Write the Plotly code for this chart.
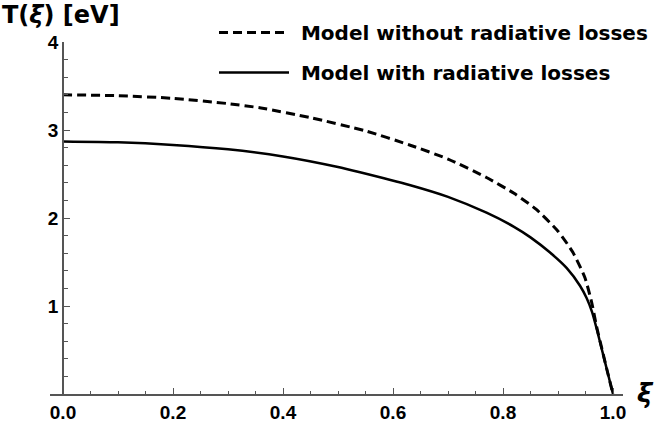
import plotly.graph_objects as go

# Data
xi_no_rad = [0.0, 0.1, 0.2, 0.3, 0.36, 0.45, 0.55, 0.63, 0.70, 0.77, 0.82, 0.86, 0.90, 0.927, 0.949, 0.962, 0.97, 0.98, 0.99, 1.0]
T_no_rad = [3.40, 3.39, 3.36, 3.30, 3.25, 3.14, 2.99, 2.83, 2.67, 2.46, 2.28, 2.10, 1.85, 1.61, 1.32, 1.02, 0.77, 0.51, 0.25, 0.0]

xi_rad = [0.0, 0.1, 0.2, 0.3, 0.4, 0.5, 0.54, 0.63, 0.70, 0.77, 0.82, 0.85, 0.885, 0.916, 0.94, 0.952, 0.962, 0.972, 0.98, 0.99, 1.0]
T_rad = [2.87, 2.86, 2.83, 2.78, 2.70, 2.58, 2.52, 2.375, 2.24, 2.06, 1.90, 1.78, 1.61, 1.43, 1.23, 1.09, 0.93, 0.70, 0.50, 0.25, 0.0]

x_ticks = [0.0, 0.2, 0.4, 0.6, 0.8, 1.0]
y_ticks = [1, 2, 3, 4]

FONT = "Liberation Sans"
LEG_FONT = "DejaVu Sans"

fig = go.Figure()
fig.add_trace(go.Scatter(
    x=xi_no_rad, y=T_no_rad, mode="lines", name="\u00a0Model without radiative losses",
    line=dict(color="black", width=3, dash="9px,5px", shape="spline", smoothing=0.6),
    legendgroup="a",
))
fig.add_trace(go.Scatter(
    x=xi_rad, y=T_rad, mode="lines", name="\u00a0Model with radiative losses",
    line=dict(color="black", width=2.5, shape="spline", smoothing=0.6),
    legendgroup="b",
))

L, R, T, B = 50, 36, 42, 37
W, H = 659, 431
pw = W - L - R
ph = H - T - B
x0, x1 = -13 / 550, 1 + 10 / 550

fig.update_layout(
    width=W, height=H,
    margin=dict(l=L, r=R, t=T, b=B, autoexpand=False),
    paper_bgcolor="white", plot_bgcolor="white",
    font=dict(family=FONT, color="black"),
    showlegend=True,
    legend=dict(
        x=(214 - L) / pw, xanchor="left", y=(394 - 13) / ph, yanchor="top",
        font=dict(size=20, family=LEG_FONT, weight="bold"),
        traceorder="grouped", tracegroupgap=11,
        bgcolor="rgba(0,0,0,0)", itemwidth=70,
    ),
    xaxis=dict(
        range=[x0, x1], showgrid=False, zeroline=False,
        showline=True, linecolor="#555555", linewidth=1.5,
        tickvals=x_ticks, tickformat=".1f",
        ticks="inside", ticklen=6, tickwidth=1.2, tickcolor="#555555",
        tickfont=dict(size=19, family=FONT, weight="bold", color="black"),
        minor=dict(dtick=0.05, tick0=0, ticks="inside", ticklen=3, tickcolor="#555555", tickwidth=1),
    ),
    yaxis=dict(
        range=[0, 4], showgrid=False, zeroline=False,
        anchor="free", position=(63 - L) / pw,
        showline=True, linecolor="#555555", linewidth=1.5,
        tickvals=y_ticks,
        ticks="inside", ticklen=6, tickwidth=1.2, tickcolor="#555555",
        tickfont=dict(size=19, family=FONT, weight="bold", color="black"),
        minor=dict(dtick=0.2, tick0=0, ticks="inside", ticklen=4, tickcolor="#555555", tickwidth=1),
    ),
    annotations=[
        dict(text="T(<i>ξ</i>) [eV]", xref="paper", yref="paper",
             x=-L / pw, y=(394 - 15) / ph, xanchor="left", yanchor="middle",
             showarrow=False, font=dict(size=24, family=LEG_FONT, weight="bold")),
        dict(text="<i>ξ</i>", xref="paper", yref="paper",
             x=(645 - L) / pw, y=(394 - 393) / ph, xanchor="center", yanchor="middle",
             showarrow=False, font=dict(size=26, family=LEG_FONT, weight="bold")),
    ],
)

fig.write_html("out.html")
